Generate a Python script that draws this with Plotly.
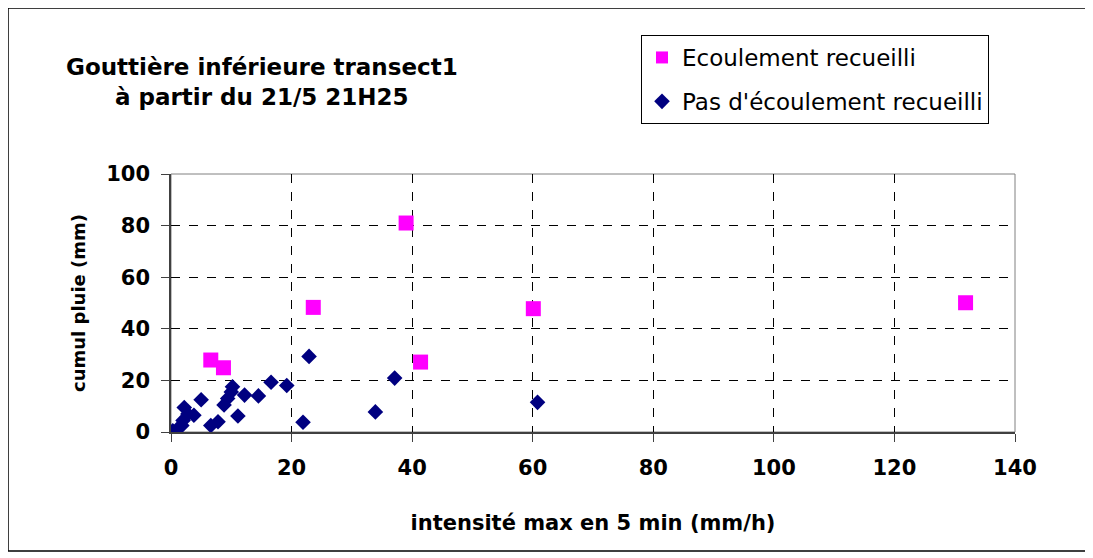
import plotly.graph_objects as go

# Data
ecoul_x = [6.6, 8.7, 23.6, 39.0, 41.4, 60.1, 131.8]
ecoul_y = [27.9, 24.9, 48.3, 81.0, 27.1, 47.8, 50.1]

pas_x = [0.3, 1.0, 1.8, 2.0, 2.2, 2.8, 3.8, 5.0, 6.6, 7.8, 8.8, 9.4, 10.0, 10.2,
         11.1, 12.2, 14.5, 16.6, 19.2, 21.9, 22.9, 33.9, 37.1, 60.8]
pas_y = [0.5, 1.0, 2.5, 4.5, 9.5, 7.0, 6.5, 12.5, 2.5, 4.0, 10.5, 13.0, 15.5, 17.5,
         6.2, 14.3, 14.0, 19.3, 18.0, 3.8, 29.3, 7.8, 20.9, 11.5]

x_ticks = [0, 20, 40, 60, 80, 100, 120, 140]
y_ticks = [0, 20, 40, 60, 80, 100]

# page body has an 8px margin: figure pixels = reference pixels - 8
OFF = 8
W, H = 1085, 550
L, T = 171 - OFF, 174 - OFF
R = W - (1015 - OFF)
B = H - (432 - OFF)
pw, ph = W - L - R, H - T - B

def px(xr):
    return (xr - OFF - L) / pw

def py(yr):
    return (H - B - (yr - OFF)) / ph

FONT = "DejaVu Sans, Liberation Sans, Arial, sans-serif"

fig = go.Figure()
fig.add_trace(go.Scatter(
    x=ecoul_x, y=ecoul_y, mode="markers", name="Ecoulement recueilli",
    legendgroup="a",
    marker=dict(symbol="square", size=15, color="#FF00FF", line=dict(width=0)),
))
fig.add_trace(go.Scatter(
    x=pas_x, y=pas_y, mode="markers", name="Pas d'écoulement recueilli",
    legendgroup="b",
    marker=dict(symbol="diamond", size=12, color="#000080", line=dict(width=0)),
))

fig.update_layout(
    width=W, height=H,
    margin=dict(l=L, r=R, t=T, b=B),
    paper_bgcolor="white", plot_bgcolor="white",
    font=dict(family=FONT, color="black"),
    showlegend=True,
    legend=dict(
        x=px(641), y=py(35), xanchor="left", yanchor="top",
        bgcolor="white", bordercolor="black", borderwidth=1,
        font=dict(size=23, family=FONT),
        traceorder="grouped", tracegroupgap=11, itemsizing="constant",
        itemwidth=30,
    ),
    xaxis=dict(
        range=[0, 140], tickvals=x_ticks, ticktext=[str(v) for v in x_ticks],
        showgrid=True, gridcolor="black", griddash="dash", gridwidth=1,
        showline=True, linecolor="#404040", linewidth=2, mirror=False,
        ticks="outside", ticklen=8, tickcolor="#404040",
        ticklabelstandoff=8,
        tickfont=dict(size=21, family=FONT, weight="bold"),
        title=dict(text="<b>intensité max en 5 min (mm/h)</b>",
                   font=dict(size=21, family=FONT), standoff=36),
        zeroline=False,
    ),
    yaxis=dict(
        range=[0, 100], tickvals=y_ticks, ticktext=[str(v) for v in y_ticks],
        showgrid=True, gridcolor="black", griddash="dash", gridwidth=1,
        showline=True, linecolor="#404040", linewidth=1.5, mirror=False,
        ticks="outside", ticklen=8, tickcolor="#404040",
        ticklabelstandoff=7,
        tickfont=dict(size=21, family=FONT, weight="bold"),
        title=dict(text="<b>cumul pluie (mm)</b>",
                   font=dict(size=18, family=FONT), standoff=16),
        zeroline=False,
    ),
    annotations=[
        dict(text="<b>Gouttière inférieure transect1<br>à partir du 21/5 21H25</b>",
             x=px(262), y=py(82), xref="paper", yref="paper",
             xanchor="center", yanchor="middle", showarrow=False,
             font=dict(size=23, family=FONT),
             align="center"),
    ],
    shapes=[
        dict(type="rect", xref="paper", yref="paper", x0=0, y0=0, x1=1, y1=1,
             line=dict(color="#808080", width=1), layer="below"),
        dict(type="rect", xref="paper", yref="paper",
             x0=px(8), y0=py(551), x1=px(1087), y1=py(8),
             line=dict(color="black", width=1.5)),
    ],
)

fig.write_html("out.html")
